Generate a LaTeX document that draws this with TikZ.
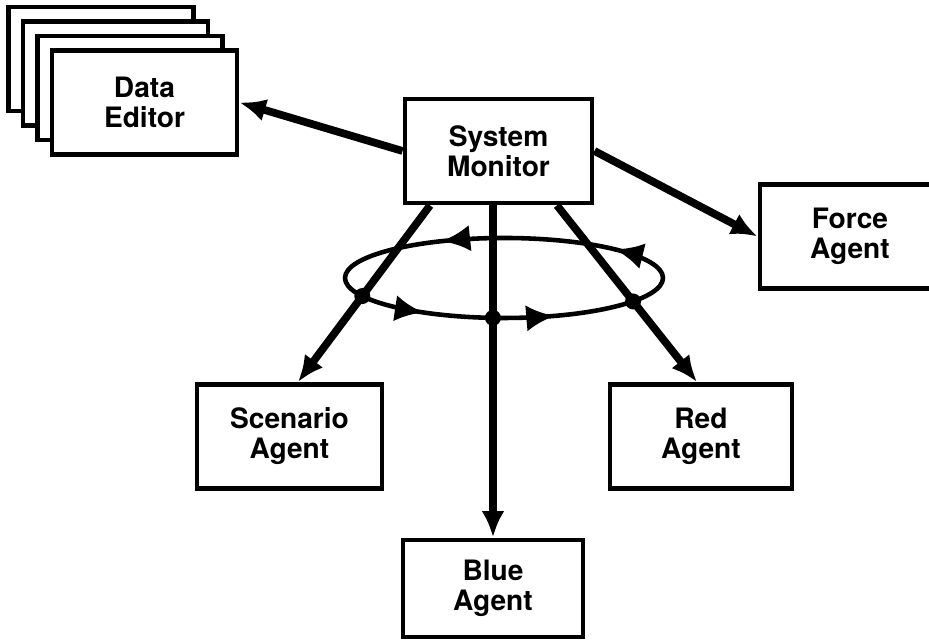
\documentclass[tikz,border=0pt]{standalone}
\usepackage{fontspec}
\setmainfont{TeX Gyre Heros}
\usetikzlibrary{%
  arrows.meta,%
  calc,%
  intersections,%
  decorations.markings%
}
\tikzset{>={Latex[length=7.5pt,width=6.5pt]}}
\tikzset{
  agent/.style={draw, line width=1.4pt, fill=white, minimum width=1.85cm,
    minimum height=1.04cm, inner sep=0pt, align=center,
    font=\fontsize{8}{8.5}\selectfont\bfseries},
  link/.style={line width=2.2pt, ->},
  ringtip/.style={decoration={markings,
      mark=at position 0.086 with {\arrow{Latex[length=8pt,width=7.5pt]}},
      mark=at position 0.341 with {\arrow{Latex[length=8pt,width=7.5pt]}},
      mark=at position 0.631 with {\arrow{Latex[length=8pt,width=7.5pt]}},
      mark=at position 0.824 with {\arrow{Latex[length=8pt,width=7.5pt]}}},
    postaction={decorate}}
}

\begin{document}
\begin{tikzpicture}
        \useasboundingbox (0,0) rectangle (9.29,6.42);
        \clip (0,0) rectangle (9.29,6.42);
        \foreach \k in {3,2,1}
          \node[agent] at ({1.445-0.145*\k},{5.395+0.145*\k}) {};
        \node[agent] (de) at (1.445,5.395) {Data\\Editor};
        \node[agent, minimum width=1.87cm] (sm) at (4.985,4.91) {System\\Monitor};
        \node[agent, minimum width=1.8cm] (fa) at (8.5,4.055) {Force\\Agent};
        \node[agent] (sa) at (2.895,2.055) {Scenario\\Agent};
        \node[agent, minimum width=1.82cm] (ra) at (7.01,2.055) {Red\\Agent};
        \node[agent, minimum width=1.8cm, minimum height=0.97cm] (ba)
        at (4.93,0.535) {Blue\\Agent};
        \draw[name path=ring, line width=1.3pt, ringtip] (5.04,3.64)
        ellipse [x radius=1.59, y radius=0.40];
        \draw[link] (sm.west) -- (de.east);
        \draw[link] (sm.east) -- (fa.west);
        \draw[link, name path=lft] ($(sm.south)+(-0.685,0)$) -- ($(sa.north)+(0.085,0)$);
        \draw[link, name path=mid] (ba.north |- sm.south) -- (ba.north);
        \draw[link, name path=rgt] ($(sm.south)+(0.585,0)$) -- ($(ra.north)+(-0.04,0)$);
        \foreach \p in {lft,mid,rgt}
          \fill[name intersections={of=ring and \p, sort by=\p, name=x}] (x-2) circle (0.08);
      \end{tikzpicture}
\end{document}
